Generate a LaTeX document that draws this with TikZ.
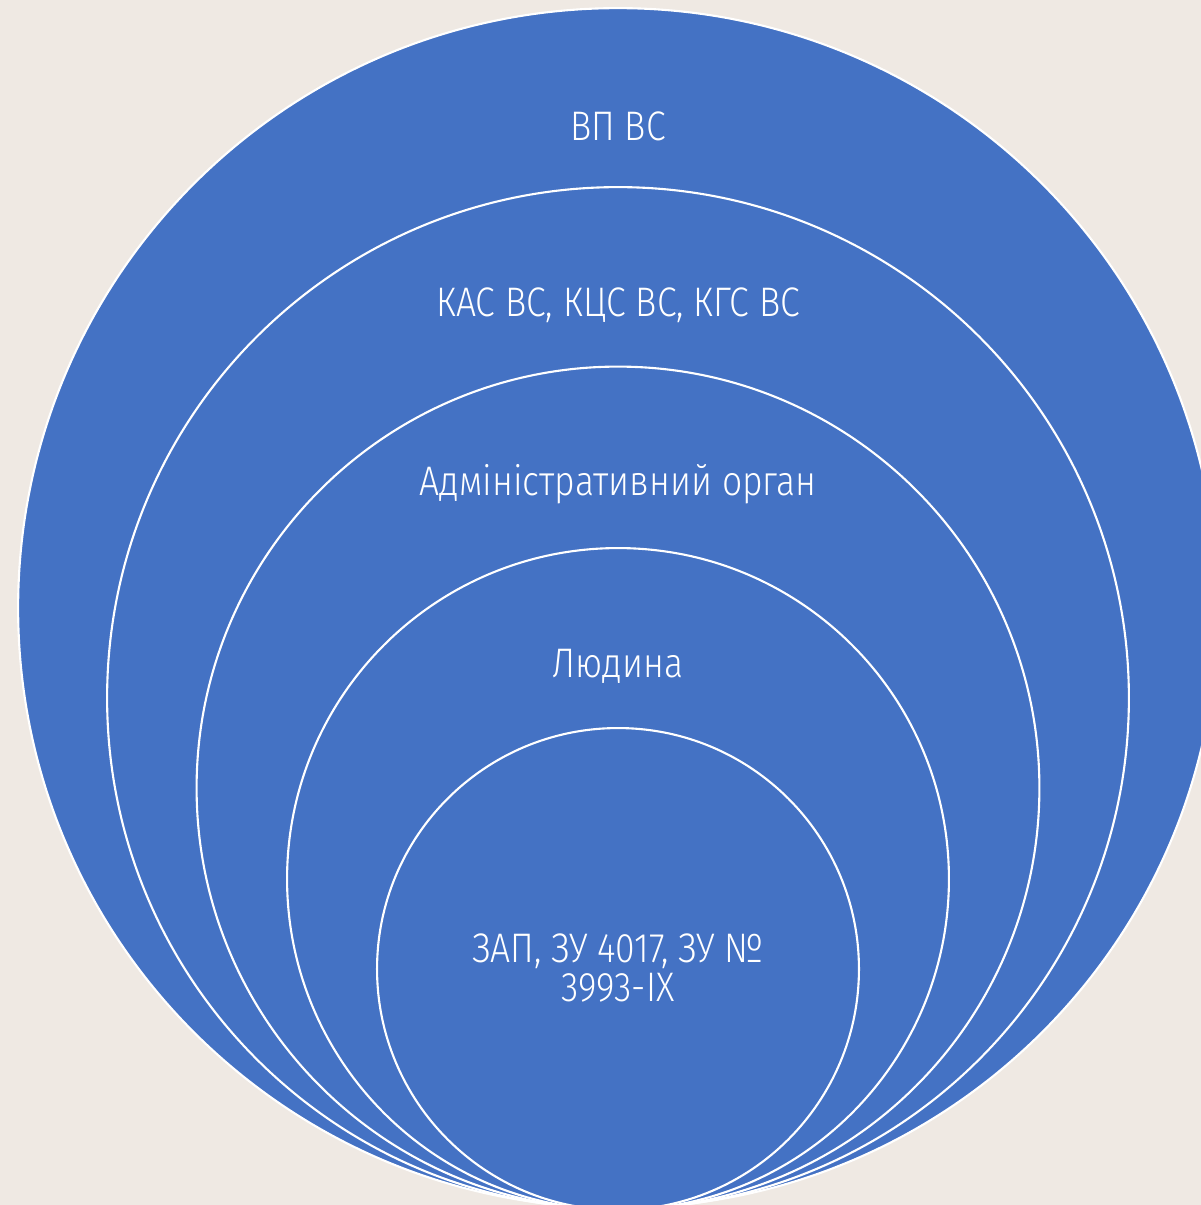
\documentclass[tikz,border=0pt]{standalone}
\usepackage{fontspec}
\setmainfont{Fira Sans}[UprightFont={* Light}, FakeStretch=0.86]
\usepackage{tikz}
\usetikzlibrary{positioning}

\definecolor{paper}{HTML}{EFE9E3}
\definecolor{ringblue}{HTML}{4472C4}

\begin{document}
\begin{tikzpicture}[
    x=0.02cm, y=-0.02cm,
    ring/.style={circle, draw=white, line width=1.2pt, fill=ringblue, inner sep=0pt},
    label/.style={text=white, anchor=base, font=\fontsize{23.5}{26}\selectfont, align=center}
]

% Background
\fill[paper] (0,0) rectangle (1201,1205);
\useasboundingbox (0,0) rectangle (1201,1205);

% Rings
\begin{scope}
\clip (0,0) rectangle (1201,1205);
\node (vpvs)  [ring, minimum size=24cm]    at (618,608) {};
\node (kasvs) [ring, minimum size=20.44cm] at (618,698) {};
\node (adm)   [ring, minimum size=16.86cm] at (618,788) {};
\node (lyud)  [ring, minimum size=13.24cm] at (618,879) {};
\node (zap)   [ring, minimum size=9.64cm]  at (618,969) {};
\end{scope}

% Labels
\node (vpvsl)  [label] at (618,140) {ВП ВС};
\node (kasvsl) [label] at (618,316) {КАС ВС, КЦС ВС, КГС ВС};
\node (adml)   [label] at (618,495) {Адміністративний орган};
\node (lyudl)  [label] at (618,677) {Людина};
\node (zapl)   [label] at (618,962) {ЗАП, ЗУ 4017, ЗУ №};
\node (zapl2)  [label] at (618,1001) {3993-IX};

\end{tikzpicture}
\end{document}
